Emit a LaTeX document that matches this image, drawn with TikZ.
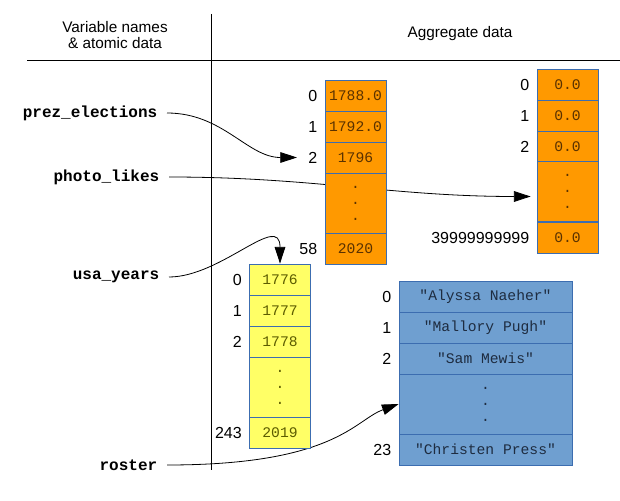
\documentclass[tikz,border=0pt]{standalone}
\usepackage{fontspec}
\setmainfont{Liberation Sans}
\setmonofont{Liberation Mono}
\usetikzlibrary{arrows.meta, backgrounds}

\definecolor{arancio}{HTML}{FF9900}
\definecolor{giallo}{HTML}{FFFF66}
\definecolor{azzurro}{HTML}{6F9FD0}
\definecolor{bordo}{HTML}{3C6DB0}
\definecolor{testoarancio}{HTML}{5A3200}
\definecolor{testogiallo}{HTML}{5C5C00}
\definecolor{testoazzurro}{HTML}{1E2C40}

\tikzset{
  cella/.style={draw=bordo, line width=0.6pt, inner sep=0pt,
    minimum width=45.75pt, minimum height=23.25pt,
    font=\fontsize{11}{12}\selectfont\ttfamily},
  puntini/.style={cella, minimum height=45pt, align=center},
  larga/.style={minimum width=129.75pt},
  nome/.style={anchor=east, outer sep=4pt,
    font=\fontsize{12}{14}\selectfont\ttfamily\bfseries},
  freccia/.style={-{Triangle[length=12.5pt, width=8pt]}, line width=0.6pt}
}

\begin{document}
\begin{tikzpicture}[x=0.75pt, y=0.75pt,
  every label/.append style={font=\fontsize{12}{14}\selectfont, label distance=2pt}]

\useasboundingbox (0,0) rectangle (620,500);

% Intestazione
\draw[line width=0.75pt] (211,486) -- (211,30);
\draw[line width=0.75pt] (27,439) -- (620,439);
\node[align=center, font=\fontsize{11.5}{12}\selectfont] (titsx) at (115,465)
  {Variable names\\\& atomic data};
\node[font=\fontsize{11.5}{12}\selectfont] (titdx) at (460,466) {Aggregate data};

% Nomi delle variabili
\node[nome] (pe) at (167,387) {prez\_elections};
\node[nome] (pl) at (169,323) {photo\_likes};
\node[nome] (uy) at (169,223) {usa\_years};
\node[nome] (ro) at (167,35) {roster};

% Array prez_elections
\node[cella, fill=arancio, text=testoarancio, label=left:0] (p0) at (355.5,404.5) {1788.0};
\node[cella, fill=arancio, text=testoarancio, label=left:1] (p1) at (355.5,373.5) {1792.0};
\node[cella, fill=arancio, text=testoarancio, label={[name=p2i]left:2}] (p2) at (355.5,342.5) {1796};
\node[puntini, fill=arancio, text=testoarancio] (p3) at (355.5,297) {.\\.\\.};
\node[cella, fill=arancio, text=testoarancio, label=left:58] (p4) at (355.5,251.5) {2020};

% Array photo_likes
\node[cella, fill=arancio, text=testoarancio, label=left:0] (f0) at (567.5,415.5) {0.0};
\node[cella, fill=arancio, text=testoarancio, label=left:1] (f1) at (567.5,384.5) {0.0};
\node[cella, fill=arancio, text=testoarancio, label=left:2] (f2) at (567.5,353.5) {0.0};
\node[puntini, fill=arancio, text=testoarancio] (f3) at (567.5,308.5) {.\\.\\.};
\node[cella, fill=arancio, text=testoarancio, label=left:39999999999] (f4) at (567.5,262.5) {0.0};

% Array usa_years
\node[cella, fill=giallo, text=testogiallo, label=left:0] (u0) at (280,220.5) {1776};
\node[cella, fill=giallo, text=testogiallo, label=left:1] (u1) at (280,189.5) {1777};
\node[cella, fill=giallo, text=testogiallo, label=left:2] (u2) at (280,158.5) {1778};
\node[puntini, fill=giallo, text=testogiallo] (u3) at (280,113) {.\\.\\.};
\node[cella, fill=giallo, text=testogiallo, label=left:243] (u4) at (280,67.5) {2019};

% Array roster
\node[cella, larga, fill=azzurro, text=testoazzurro, label=left:0] (r0) at (485.5,203.5) {"Alyssa Naeher"};
\node[cella, larga, fill=azzurro, text=testoazzurro, label=left:1] (r1) at (485.5,172.5) {"Mallory Pugh"};
\node[cella, larga, fill=azzurro, text=testoazzurro, label=left:2] (r2) at (485.5,141.5) {"Sam Mewis"};
\node[puntini, larga, fill=azzurro, text=testoazzurro] (r3) at (485.5,96) {.\\.\\.};
\node[cella, larga, fill=azzurro, text=testoazzurro, label=left:23] (r4) at (485.5,50.5) {"Christen Press"};

% Riferimenti (sotto gli array)
\begin{pgfonlayer}{background}
\draw[freccia, shorten >=5pt] (pe.east) to[out=0, in=180] (p2i.west);
\draw[freccia, shorten >=4.5pt] (pl.east) to[out=0, in=180] ([yshift=-3.75pt]f3.west);
\draw[freccia] (uy.east) to[out=0, in=90, looseness=1.2] (u0.north);
\draw[freccia] (ro.east) to[out=0, in=200, out looseness=1.8, in looseness=0.5] (r3.west);
\end{pgfonlayer}

\end{tikzpicture}
\end{document}
